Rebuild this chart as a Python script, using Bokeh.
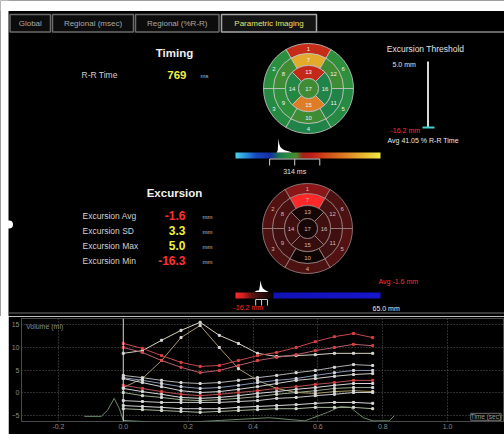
import numpy as np
from bokeh.plotting import figure
from bokeh.models import (Range1d, LinearColorMapper, ColumnDataSource, FixedTicker,
                          Label, Span, PrintfTickFormatter)
from bokeh.embed import file_html
from bokeh.resources import INLINE
from bokeh.core.properties import value
from bokeh.transform import transform

FONT = "Liberation Sans"

# ---------------- data ----------------
tab_names = ["Global", "Regional (msec)", "Regional (%R-R)", "Parametric Imaging"]
active_tab = 3
rr_time_ms = 769
exc_stat_names = ["Excursion Avg", "Excursion SD", "Excursion Max", "Excursion Min"]
exc_stat_values = [-1.6, 3.3, 5.0, -16.3]
thr_top_mm = 5.0
thr_bottom_mm = -16.2
thr_avg_pct_rr = 41.05
timing_mean_ms = 314
timing_sd_ms = 133
exc_scale_mm = [-16.2, 65.0]
exc_avg_mm = -1.6
exc_sd_mm = 3.3

seg_ids = list(range(1, 18))
seg_timing_ms = [430, 277, 270, 254, 270, 285, 655, 308, 285, 308, 254, 308, 423, 262, 577, 254, 308]
seg_excursion_mm = [-9.0, -5.5, -5.0, -5.0, -5.5, -5.0, -16.3, -4.5, -4.0, 4.0, -4.0, -4.5, 3.0,
                    -4.0, -2.0, -4.0, 3.0]

timing_hist_ms = [218, 224, 228, 232, 238, 246, 256, 266, 276, 290, 300]
timing_hist_cnt = [0.0, 0.15, 1.0, 0.6, 0.4, 0.28, 0.2, 0.14, 0.1, 0.05, 0.0]
exc_hist_mm = [-5.5, -4.5, -3.0, -2.6, -2.2, -1.6, -0.8, 0.5, 1.8, 2.5]
exc_hist_cnt = [0.0, 0.1, 0.15, 0.5, 1.0, 0.55, 0.3, 0.15, 0.05, 0.0]

frame_time_s = [0.0, 0.059, 0.118, 0.178, 0.237, 0.296, 0.355, 0.414, 0.473, 0.533,
                0.592, 0.651, 0.710, 0.769]
vol_curves = [
    [8.7, 9.3, 11.6, 13.8, 15.6, 12.7, 10.9, 8.7, 8.0, 8.2, 8.4, 8.7, 8.7, 8.7],
    [1.1, 3.1, 7.1, 12.2, 14.9, 10.0, 5.3, 2.7, 0.9, 0.0, -0.2, 0.2, 0.4, 0.2],
    [10.9, 9.8, 8.2, 6.7, 5.8, 6.0, 7.1, 8.2, 8.9, 10.0, 11.3, 12.4, 13.1, 12.2],
    [10.0, 8.9, 7.1, 5.6, 4.4, 4.9, 6.0, 7.1, 7.8, 8.4, 9.3, 10.0, 10.7, 10.4],
    [3.8, 3.3, 2.7, 2.2, 2.0, 2.2, 2.7, 3.3, 3.8, 4.4, 4.9, 5.6, 6.2, 6.0],
    [3.3, 2.7, 2.0, 1.3, 0.9, 1.1, 1.6, 2.2, 2.7, 3.1, 3.8, 4.4, 4.9, 4.9],
    [3.1, 2.2, 1.3, 0.4, 0.0, 0.2, 0.7, 1.3, 2.0, 2.7, 3.1, 3.6, 4.0, 4.2],
    [1.6, 0.9, 0.2, -0.4, -0.7, -0.4, 0.0, 0.4, 0.9, 1.3, 1.8, 2.2, 2.7, 2.7],
    [0.9, 0.2, -0.4, -1.1, -1.3, -1.1, -0.7, -0.2, 0.2, 0.7, 1.1, 1.6, 2.0, 2.0],
    [0.0, -0.7, -1.1, -1.6, -1.8, -1.6, -1.3, -0.9, -0.4, 0.0, 0.4, 0.9, 1.1, 1.1],
    [-1.8, -2.0, -2.2, -2.2, -2.2, -2.2, -2.0, -1.8, -1.3, -1.1, -0.7, -0.4, 0.0, 0.0],
    [-2.9, -3.1, -3.3, -3.6, -3.6, -3.6, -3.3, -3.1, -2.9, -2.7, -2.4, -2.2, -2.2, -2.4],
    [-3.6, -3.8, -4.0, -4.2, -4.4, -4.2, -4.0, -3.8, -3.6, -3.6, -3.3, -3.3, -3.3, -3.6],
]
curve_colors = ["#d8d4c0", "#a89a60", "#c84848", "#b86070", "#b0b0b0", "#8898b8", "#d0d0d0",
                "#b85050", "#d8d8d8", "#98a888", "#c8c8c8", "#d8d8d8", "#a8b898"]
marker_colors = ["#d8d8d8", "#d8d8d8", "#e04040", "#e04040", "#d8d8d8", "#d8d8d8", "#d8d8d8",
                 "#e04040", "#d8d8d8", "#d8d8d8", "#d8d8d8", "#d8d8d8", "#d8d8d8"]
ecg_t = [-0.12, -0.068, -0.049, -0.028, -0.012, 0.0, 0.10, 0.20, 0.30, 0.45, 0.56, 0.63,
         0.67, 0.70, 0.74, 0.77, 0.82, 0.835]
ecg_v = [-5.3, -5.3, -4.0, -1.3, -3.6, -6.2, -6.6, -6.6, -6.2, -5.6, -6.3, -4.4, -3.1, -3.3,
         -5.6, -6.3, -6.3, -5.2]
x_ticks = [-0.2, 0.0, 0.2, 0.4, 0.6, 0.8, 1.0]
y_ticks = [-5, 0, 5, 10, 15]

# ---------------- helpers ----------------
W, H1, H2 = 504, 316, 118
PX0, PX1, PY_BOT, PY_TOP = 0, 504, 316, 0


def lin_range(v0, p0, v1, p1, p_start, p_end):
    k = (v1 - v0) / (p1 - p0)
    return Range1d(start=v0 + (p_start - p0) * k, end=v0 + (p_end - p0) * k)


def make_palette(stops, n=256):
    pos = [s[0] for s in stops]
    rgb = np.array([[int(c[i:i + 2], 16) for i in (1, 3, 5)] for _, c in stops], float)
    t = np.linspace(0, 1, n)
    r = np.interp(t, pos, rgb[:, 0]); g = np.interp(t, pos, rgb[:, 1]); b = np.interp(t, pos, rgb[:, 2])
    return ["#%02x%02x%02x" % (int(a), int(bb), int(c)) for a, bb, c in zip(r, g, b)]


pal_timing = make_palette([(0.0, "#48d0f0"), (0.07, "#2890d8"), (0.14, "#1848c0"),
                           (0.24, "#1430a0"), (0.30, "#187850"), (0.36, "#2a9040"),
                           (0.42, "#4a8a30"), (0.46, "#a02818"), (0.52, "#c01c18"),
                           (0.62, "#d04818"), (0.78, "#e08828"), (0.90, "#e8c030"),
                           (1.0, "#f0e848")])
pal_exc = make_palette([(0.0, "#ff2828"), (0.05, "#d02020"), (0.10, "#701414"),
                        (0.15, "#401010"), (0.22, "#200808"), (0.255, "#0a0404"),
                        (0.262, "#1212b8"), (1.0, "#1616cc")])
map_timing = LinearColorMapper(palette=pal_timing, low=0, high=rr_time_ms)
map_exc = LinearColorMapper(palette=pal_exc, low=exc_scale_mm[0], high=exc_scale_mm[1])

top = figure(width=W, height=H1, x_range=Range1d(PX0, PX1), y_range=Range1d(-PY_BOT, -PY_TOP),
             x_axis_type=None, y_axis_type=None, toolbar_location=None, output_backend="svg",
             min_border=0, background_fill_color="black", border_fill_color="black",
             outline_line_color=None)


def txt(x, y, s, size, color, bold=False, align="left", **kw):
    top.text(x=[x], y=[-y], text=[s], text_font=value(FONT), text_font_size=f"{size}px",
             text_color=color, text_align=align, text_baseline="middle",
             text_font_style="bold" if bold else "normal", **kw)


# white page margin (top and left)
top.quad(left=[0, 0], right=[PX1, 8], bottom=[-10.5, -PY_BOT], top=[0, 0], fill_color="white",
         line_color=None)

# tabs
tab_x = [(9.5, 50), (52, 133), (135, 218.5), (221, 316)]
for i, (name, (l, r)) in enumerate(zip(tab_names, tab_x)):
    act = i == active_tab
    top.quad(left=[l], right=[r], top=[-14], bottom=[-31.5],
             fill_color="#141414" if act else "#0c0c0c",
             line_color="#a8a8a8" if act else "#6a6a6a", line_width=1.5)
    txt((l + r) / 2, 23, name, 8, "#e4e070" if act else "#a8a8a8", align="center")
top.segment(x0=[316], y0=[-31.5], x1=[PX1], y1=[-31.5], line_color="#8a8a8a", line_width=1.5)

# Timing block
txt(174, 52, "Timing", 11.5, "#f0f0f0", bold=True, align="center")
txt(81, 74, "R-R Time", 8.5, "#d0d0d0")
txt(186, 74, f"{rr_time_ms}", 11.5, "#f0f040", bold=True, align="right")
txt(200, 75, "ms", 6, "#c0c0c0")

# Excursion block
txt(174, 192, "Excursion", 11.5, "#f0f0f0", bold=True, align="center")
for k, (nm, v) in enumerate(zip(exc_stat_names, exc_stat_values)):
    yy = 215 + 15 * k
    txt(82, yy, nm, 8.5, "#d0d0d0")
    txt(185, yy, f"{v:.1f}", 12, "#ff3030" if v < 0 else "#f0f040", bold=True, align="right")
    txt(202, yy + 1, "mm", 6, "#c0c0c0")


# bullseyes
def bullseye(cx, cy, vals, mapper, line_color, label_color):
    ri, ro, a0, a1, lx, ly = [], [], [], [], [], []
    for sid in seg_ids[:16]:
        if sid <= 6:
            r_in, r_out, c, w = 35, 45, 90 + 60 * (sid - 1), 60
        elif sid <= 12:
            r_in, r_out, c, w = 23, 35, 90 + 60 * (sid - 7), 60
        else:
            r_in, r_out, c, w = 10, 23, 90 + 90 * (sid - 13), 90
        ri.append(r_in); ro.append(r_out)
        a0.append(np.radians(c - w / 2)); a1.append(np.radians(c + w / 2))
        rm = (r_in + r_out) / 2
        lx.append(cx + rm * np.cos(np.radians(c))); ly.append(-cy + rm * np.sin(np.radians(c)))
    src = ColumnDataSource(dict(x=[cx] * 16, y=[-cy] * 16, ri=ri, ro=ro, a0=a0, a1=a1, v=vals[:16]))
    top.annular_wedge(x="x", y="y", inner_radius="ri", outer_radius="ro", start_angle="a0",
                      end_angle="a1", fill_color=transform("v", mapper), line_color=line_color,
                      line_width=0.8, source=src)
    asrc = ColumnDataSource(dict(x=[cx], y=[-cy], v=[vals[16]]))
    top.circle(x="x", y="y", radius=10, fill_color=transform("v", mapper), line_color=line_color,
               line_width=0.8, source=asrc)
    lx.append(cx); ly.append(-cy)
    top.text(x=lx, y=ly, text=[str(s) for s in seg_ids], text_font=value(FONT),
             text_font_size="6px", text_color=label_color, text_align="center",
             text_baseline="middle")


bullseye(308, 88, seg_timing_ms, map_timing, "#c8c8c8", "#f0f0f0")
bullseye(307, 228, seg_excursion_mm, map_exc, "#a08888", "#d0b8b8")

# timing colour scale
top.extra_x_ranges["timing"] = lin_range(0, 235, rr_time_ms, 380, PX0, PX1)
top.extra_y_ranges["h1"] = lin_range(0, 152, 1, 138, PY_BOT, PY_TOP)
top.image(image=[np.linspace(0, rr_time_ms, 300).reshape(1, -1)], x=0, y=-158, dw=rr_time_ms,
          dh=6, color_mapper=map_timing, x_range_name="timing")
top.varea(x=timing_hist_ms, y1=[0] * len(timing_hist_ms), y2=timing_hist_cnt, fill_color="white",
          x_range_name="timing", y_range_name="h1")
m, s = timing_mean_ms, timing_sd_ms
top.segment(x0=[m - s, m - s, m, m + s], y0=[-158.5] * 4, x1=[m + s, m - s, m, m + s],
            y1=[-158.5, -165, -165, -165], line_color="#d0d0d0", line_width=1,
            x_range_name="timing")
top.text(x=[m], y=[-171], text=[f"{timing_mean_ms} ms"], text_font=value(FONT),
         text_font_size="7px", text_color="#e0e0e0", text_align="center", text_baseline="middle",
         x_range_name="timing")

# excursion threshold slider
top.extra_y_ranges["thr"] = lin_range(thr_top_mm, 61, thr_bottom_mm, 127, PY_BOT, PY_TOP)
txt(425, 48, "Excursion Threshold", 8.5, "#e0e0e0", align="center")
top.segment(x0=[427.5], y0=[thr_top_mm], x1=[427.5], y1=[thr_bottom_mm], line_color="#d8d8d8",
            line_width=2, y_range_name="thr")
txt(392, 64, f"{thr_top_mm:.1f} mm", 7, "#e0e0e0")
txt(390, 129.5, f"{thr_bottom_mm:.1f} mm", 7, "#ff3030")
top.rect(x=[428], y=[thr_bottom_mm], width=12, height=0.7, fill_color="#40d0d0",
         line_color=None, y_range_name="thr")
txt(387, 139.5, f"Avg {thr_avg_pct_rr:.2f} % R-R Time", 7, "#e8e8e8")

# excursion colour scale
top.extra_x_ranges["exc"] = lin_range(exc_scale_mm[0], 235, exc_scale_mm[1], 380, PX0, PX1)
top.extra_y_ranges["h2"] = lin_range(0, 291.5, 1, 280, PY_BOT, PY_TOP)
top.image(image=[np.linspace(exc_scale_mm[0], exc_scale_mm[1], 300).reshape(1, -1)],
          x=exc_scale_mm[0], y=-298, dw=exc_scale_mm[1] - exc_scale_mm[0], dh=6,
          color_mapper=map_exc, x_range_name="exc")
top.varea(x=exc_hist_mm, y1=[0] * len(exc_hist_mm), y2=exc_hist_cnt, fill_color="white",
          x_range_name="exc", y_range_name="h2")
m, s = exc_avg_mm, exc_sd_mm
top.segment(x0=[m - s, m - s, m, m + s], y0=[-299] * 4, x1=[m + s, m - s, m, m + s],
            y1=[-299, -305, -305, -305], line_color="#d0d0d0", line_width=1, x_range_name="exc")
txt(378, 281, f"Avg {exc_avg_mm:.1f} mm", 7, "#ff3030")
txt(233, 307, f"{exc_scale_mm[0]:.1f} mm", 7, "#ff3030")
txt(372, 307.5, f"{exc_scale_mm[1]:.1f} mm", 7, "#e8e8e8")

# left edge artefact and separator
top.circle(x=[8.5], y=[-224], radius=4, fill_color="white", line_color=None)
top.segment(x0=[8], y0=[-312.5], x1=[PX1], y1=[-312.5], line_color="#707070", line_width=1)

# ---------------- bottom volume chart ----------------
bot = figure(width=W - 8, height=H2, x_range=Range1d(-0.3138, 1.1754),
             y_range=Range1d(-6.44, 16.44),
             toolbar_location=None, output_backend="svg", background_fill_color="black",
             border_fill_color="black", outline_line_color="#4a4a4a",
             min_border_left=12, min_border_right=0, min_border_top=2, min_border_bottom=13)
bot.styles = {"margin-left": "8px"}
for ax in (bot.xaxis[0], bot.yaxis[0]):
    ax.axis_line_color = None
    ax.major_tick_line_color = None
    ax.minor_tick_line_color = None
    ax.major_tick_in = 0
    ax.major_tick_out = 0
    ax.minor_tick_out = 0
    ax.major_label_text_color = "#8a8a8a"
    ax.major_label_text_font_size = "7px"
    ax.major_label_text_font = FONT
bot.xaxis[0].ticker = FixedTicker(ticks=x_ticks)
bot.xaxis[0].formatter = PrintfTickFormatter(format="%.1f")
bot.xaxis[0].major_label_standoff = 2
bot.yaxis[0].ticker = FixedTicker(ticks=y_ticks)
bot.yaxis[0].major_label_standoff = 2
bot.xgrid.ticker = FixedTicker(ticks=[t for t in x_ticks if t != 0.0])
bot.ygrid.ticker = FixedTicker(ticks=y_ticks)
for g in (bot.xgrid[0], bot.ygrid[0]):
    g.grid_line_color = "#5a5a5a"
    g.grid_line_dash = "1 2"
bot.add_layout(Span(location=0, dimension="height", line_color="#d8d8d8", line_width=1))

bot.line(ecg_t, ecg_v, line_color="#6a8a6a", line_width=1)
bot.multi_line(xs=[frame_time_s] * len(vol_curves), ys=vol_curves, line_color=curve_colors,
               line_width=1)
mx, my, mc = [], [], []
for cv, mcol in zip(vol_curves, marker_colors):
    mx += frame_time_s; my += cv; mc += [mcol] * len(cv)
bot.scatter(mx, my, marker="square", size=2, color=mc)

bot.add_layout(Label(x=-0.30, y=14.7, text="Volume (ml)", text_font_size="7px",
                     text_color="#8a8a8a", text_baseline="middle", text_font=FONT))
bot.add_layout(Label(x=1.165, y=-5.4, text="Time (sec)", text_font_size="6.5px",
                     text_color="#9a9a9a", text_baseline="middle", text_align="right",
                     text_font=FONT, border_line_color="#6a6a6a"))

open("out.html", "w").write(file_html([top, bot], INLINE))
